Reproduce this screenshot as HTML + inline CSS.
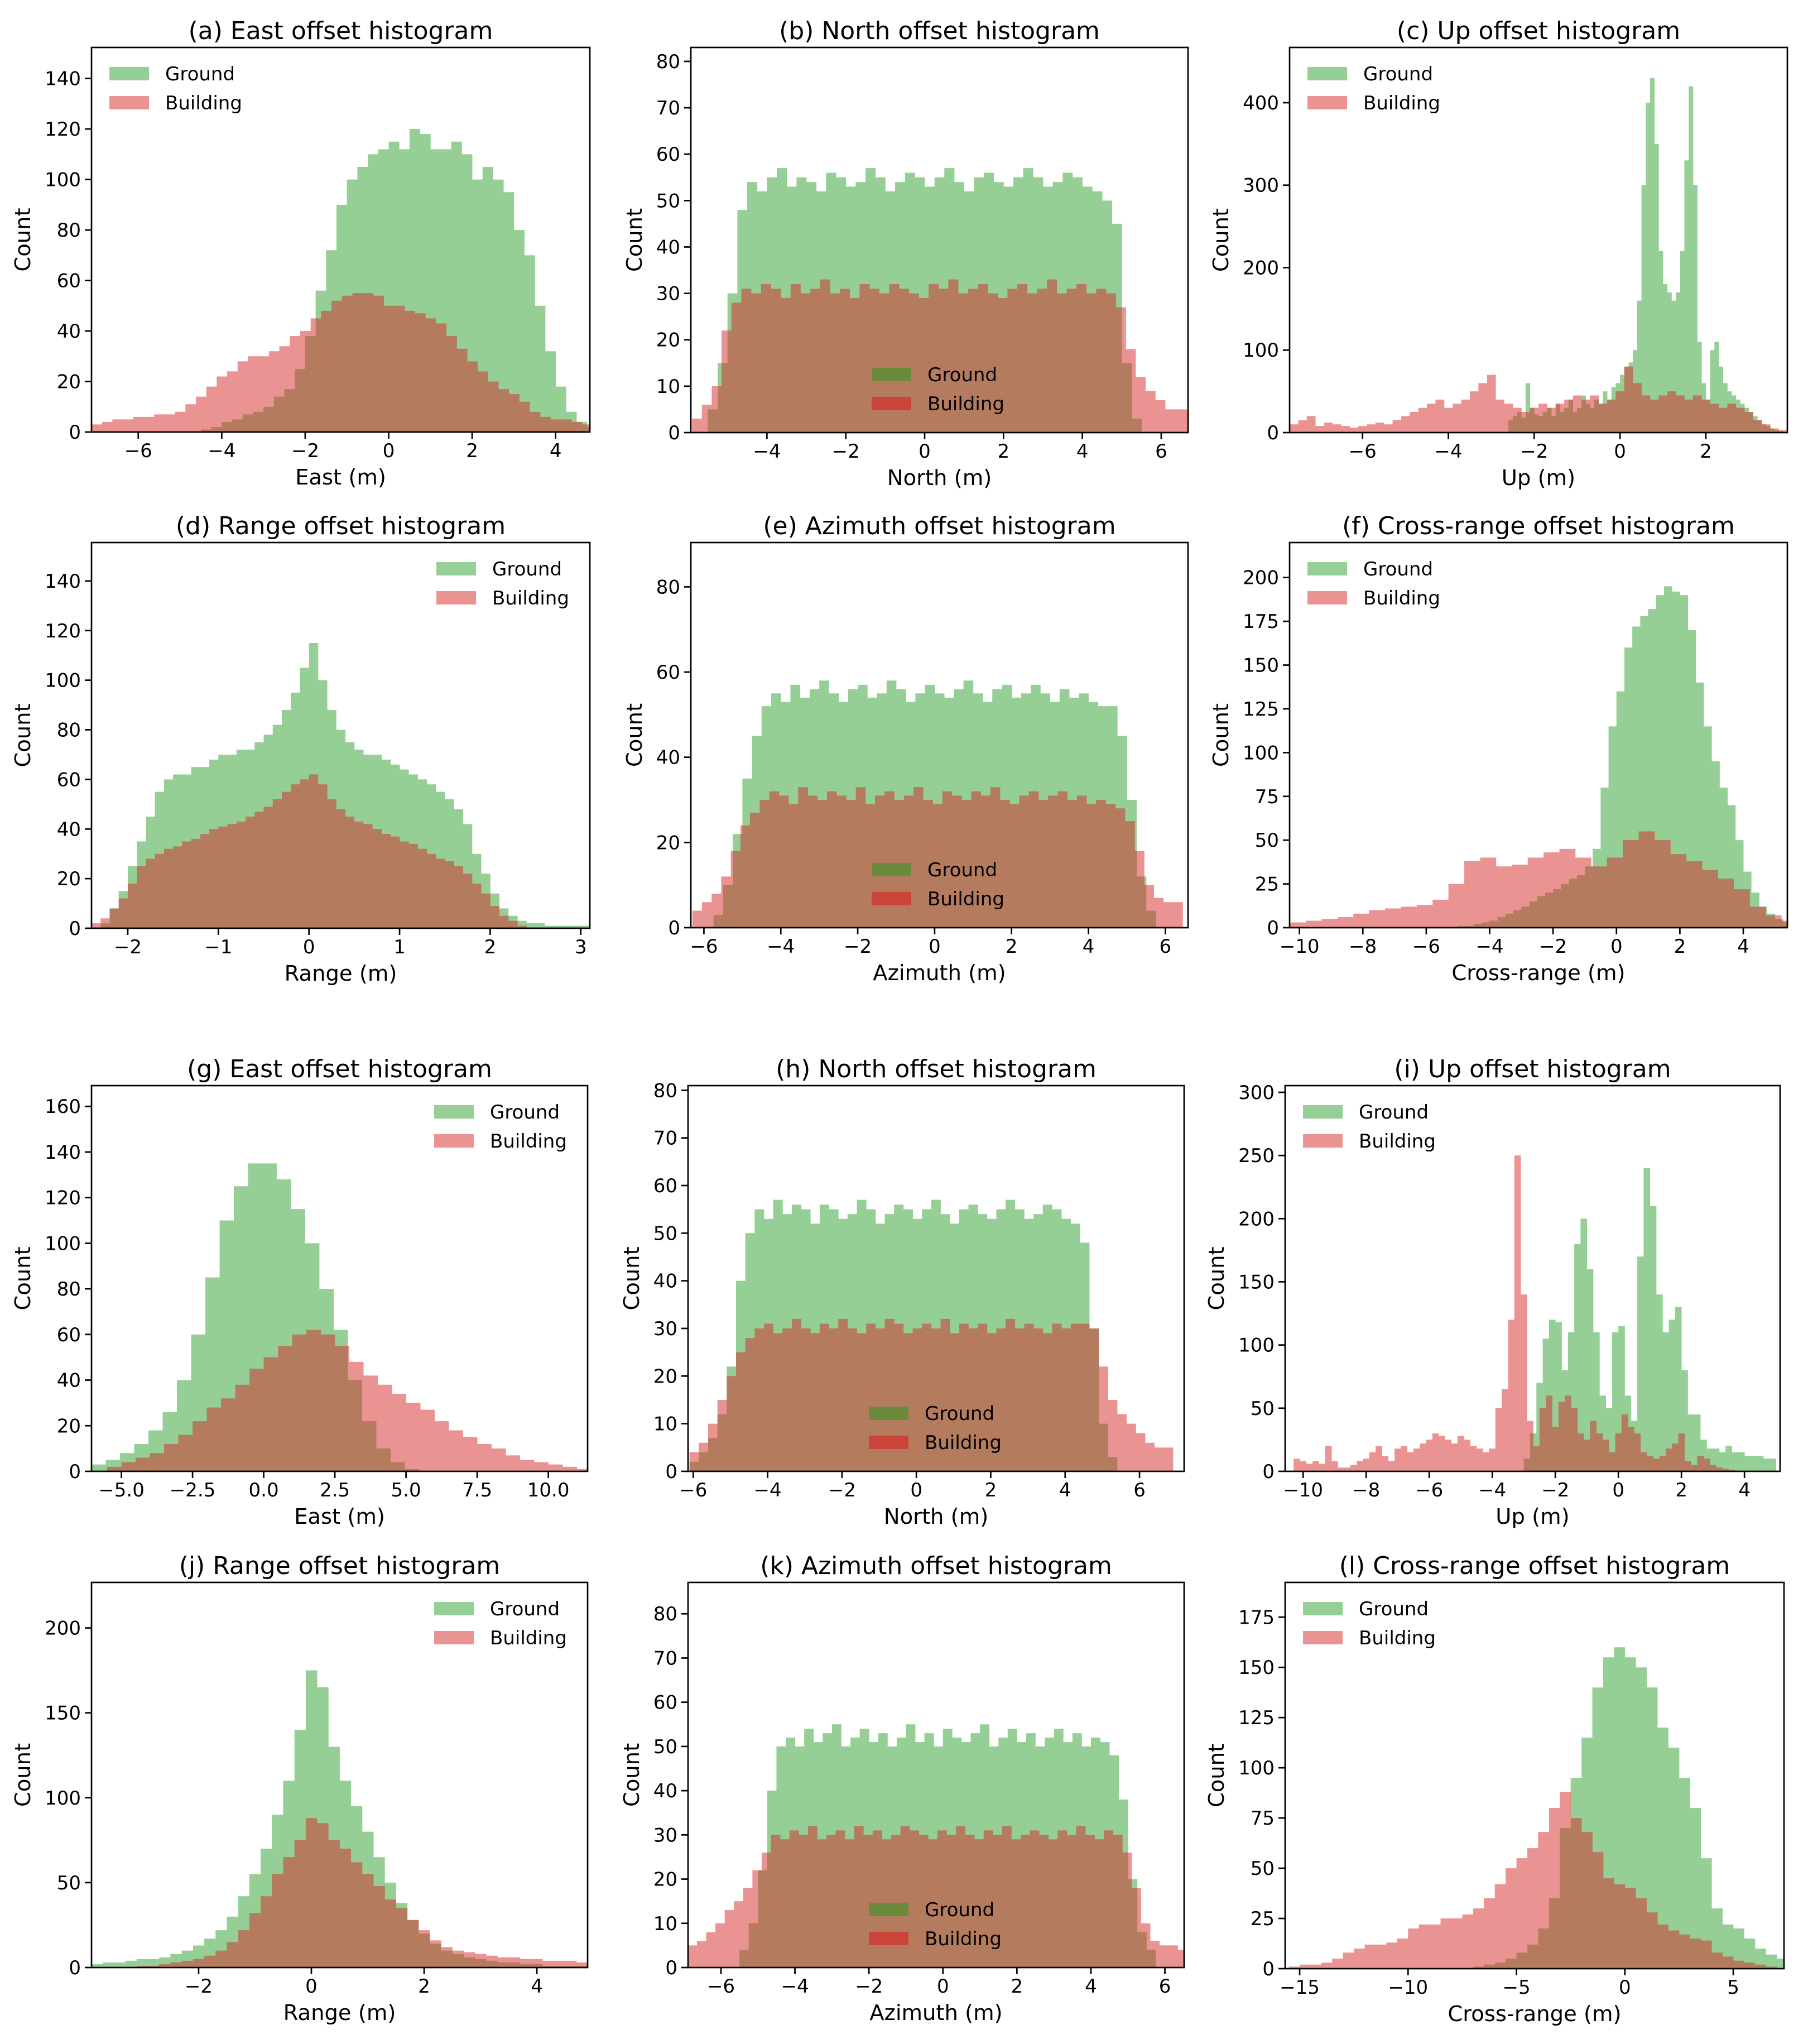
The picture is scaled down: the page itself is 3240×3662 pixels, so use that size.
<!DOCTYPE html>
<html><head><meta charset="utf-8"><style>
html,body{margin:0;padding:0;background:#fff}
svg{display:block;font-family:"DejaVu Sans","Liberation Sans",sans-serif}
</style></head><body>
<svg id="fig" xmlns="http://www.w3.org/2000/svg" width="3240" height="3662" viewBox="0 0 3240 3662"></svg>
<script>
// ---- data (counts per bin, bin start in metres, bin width in metres) ----
const aGroundStart=-4.5, aGroundBin=0.25;
const aGround=[1,2,4,5,7,8,10,14,17,25,38,56,72,90,100,105,110,112,115,112,120,118,112,112,115,110,100,105,100,95,80,70,50,32,18,8,4,2];
const aBuildStart=-7.12, aBuildBin=0.25;
const aBuild=[3,4,5,5,6,6,7,7,8,11,14,18,22,24,28,30,30,32,34,38,40,45,48,52,54,55,55,54,50,50,48,47,45,43,38,33,28,24,20,17,15,12,8,6,5,5,4,3];

const bGroundStart=-5.5, bGroundBin=0.25;
const bGround=[5,15,30,48,54,52,55,57,53,55,54,52,56,55,53,54,57,55,52,54,56,55,53,55,57,54,52,55,56,54,53,55,57,55,53,54,56,55,53,52,50,45,15,3];
const bBuildStart=-5.9, bBuildBin=0.25;
const bBuild=[3,6,10,22,28,31,30,32,31,29,32,30,31,33,30,31,29,32,31,30,32,31,30,29,32,31,33,30,31,32,30,29,31,32,30,31,33,30,31,32,30,31,30,27,18,12,9,7,5,5,5];

const cGroundStart=-2.6, cGroundBin=0.1;
const cGround=[15,20,25,18,60,30,22,20,25,30,20,35,25,30,40,25,30,45,35,30,40,35,50,40,55,60,70,80,85,100,160,300,400,430,350,220,180,170,160,170,220,330,420,300,110,60,40,100,110,80,60,50,45,40,35,30,25,20,15,10,8,5,3,2];
const cBuildStart=-7.7, cBuildBin=0.2;
const cBuild=[10,15,20,8,12,10,8,6,8,10,12,10,15,20,25,30,35,40,30,35,40,50,60,70,40,35,30,25,30,35,30,35,40,45,40,45,35,40,50,80,60,45,40,45,50,45,40,45,40,35,30,35,30,25,15,10,5,3];

const dGroundStart=-2.3, dGroundBin=0.1;
const dGround=[2,8,15,25,35,45,55,60,62,62,65,65,68,70,70,72,72,75,78,82,88,95,105,115,100,88,80,75,72,70,70,68,66,64,62,60,58,55,52,48,42,30,22,14,8,5,3,2,2,1,1,1,1,1];
const dBuildStart=-2.4, dBuildBin=0.1;
const dBuild=[2,4,8,12,18,25,28,30,32,33,35,36,38,40,41,42,43,45,47,49,52,55,58,60,62,58,52,48,45,43,42,40,38,37,35,34,32,30,28,27,25,22,18,14,9,5,3,1];

const eGroundStart=-5.75, eGroundBin=0.25;
const eGround=[3,10,22,35,45,52,55,53,57,54,56,58,55,53,56,57,54,55,58,56,53,55,57,55,54,56,58,55,53,56,57,54,55,57,55,53,56,54,55,53,52,52,45,30,12,4];
const eBuildStart=-6.3, eBuildBin=0.25;
const eBuild=[4,6,8,12,18,24,27,30,32,31,29,33,31,30,32,31,30,33,29,31,32,30,31,33,30,29,32,31,30,32,31,33,30,29,31,32,30,31,32,30,31,29,30,29,28,25,18,10,7,6,6];

const fGroundStart=-5.0, fGroundBin=0.25;
const fGround=[1,1,2,3,4,6,8,10,12,15,18,20,22,25,28,30,35,45,80,115,135,160,172,178,182,190,195,192,190,170,140,115,95,80,70,50,32,20,12,8,5,3];
const fBuildStart=-10.3, fBuildBin=0.5;
const fBuild=[3,4,5,6,8,10,11,12,13,16,25,38,40,35,36,40,43,45,40,35,40,50,55,50,42,38,33,28,22,12,7,4];

const gGroundStart=-6.05, gGroundBin=0.5;
const gGround=[3,5,8,12,18,26,40,60,85,110,125,135,135,128,115,100,80,62,40,22,10,4,1];
const gBuildStart=-5.5, gBuildBin=0.5;
const gBuild=[2,4,6,8,12,16,22,28,32,38,45,50,55,60,62,60,55,48,42,38,34,30,27,22,18,15,12,10,7,5,4,3,2,1];

const hGroundStart=-6.1, hGroundBin=0.25;
const hGround=[2,4,7,12,22,40,50,55,53,57,54,56,55,52,56,55,53,54,57,55,52,54,56,55,53,55,57,54,52,55,56,54,53,55,57,55,53,54,56,55,53,52,48,30,10,3];
const hBuildStart=-6.1, hBuildBin=0.25;
const hBuild=[4,6,10,15,20,25,28,30,31,29,30,32,30,29,31,30,32,30,29,31,30,32,31,29,30,31,30,32,29,31,30,31,29,30,32,30,31,30,29,31,30,31,31,30,22,15,12,10,8,6,5,5];

const iGroundStart=-3.0, iGroundBin=0.2;
const iGround=[10,30,70,105,120,118,80,110,180,200,160,110,60,50,110,115,60,40,170,240,210,140,110,120,130,80,45,45,25,18,18,15,20,15,15,12,12,12,10,10];
const iBuildStart=-10.3, iBuildBin=0.2;
const iBuild=[10,8,6,8,6,20,8,3,3,5,8,10,15,20,12,8,18,20,15,18,22,25,30,28,25,22,28,25,20,18,15,18,50,65,120,250,140,40,20,50,60,35,55,60,50,30,25,40,30,25,15,30,45,35,30,15,12,10,12,18,22,30,8,5,12,10,5,3,2,1,0,0,0,0,0,0,0];

const jGroundStart=-3.9, jGroundBin=0.2;
const jGround=[2,3,3,4,5,5,6,8,10,13,17,22,30,42,55,70,90,110,140,175,165,130,110,95,80,65,50,38,28,20,14,10,8,6,5,4,3,3,2,2,1,1,1,1];
const jBuildStart=-3.9, jBuildBin=0.2;
const jBuild=[0,0,0,0,1,1,2,3,4,5,7,10,15,22,32,42,55,65,75,88,85,75,70,62,55,48,40,35,28,22,16,12,10,9,8,7,6,6,5,5,4,4,4,3];

const kGroundStart=-5.5, kGroundBin=0.25;
const kGround=[4,10,22,40,50,52,50,54,51,53,55,50,52,54,51,53,50,52,55,51,53,50,54,52,51,53,55,50,52,54,51,53,50,52,54,51,53,50,52,51,48,38,20,8,4];
const kBuildStart=-6.9, kBuildBin=0.25;
const kBuild=[5,6,8,10,13,15,18,22,26,30,29,31,30,32,29,30,31,29,32,30,31,29,30,32,31,30,29,31,30,32,30,29,31,30,32,29,30,31,30,29,31,30,32,30,29,31,30,26,18,10,6,5,5,4];

const lGroundStart=-7.0, lGroundBin=0.5;
const lGround=[1,2,3,5,8,12,20,35,70,95,115,140,155,160,155,150,140,120,110,95,80,55,30,22,20,15,10,7,5];
const lBuildStart=-15.5, lBuildBin=0.5;
const lBuild=[1,2,2,3,5,8,10,12,12,13,15,20,22,22,25,25,27,30,35,42,50,55,60,68,80,88,75,68,58,45,42,40,35,28,22,19,17,15,14,8,6,4,3,2,1];

// tick values
const xtA=[-6,-4,-2,0,2,4], ytA=[0,20,40,60,80,100,120,140];
const xtB=[-4,-2,0,2,4,6], ytB=[0,10,20,30,40,50,60,70,80];
const xtC=[-6,-4,-2,0,2], ytC=[0,100,200,300,400];
const xtD=[-2,-1,0,1,2,3], ytD=[0,20,40,60,80,100,120,140];
const xtE=[-6,-4,-2,0,2,4,6], ytE=[0,20,40,60,80];
const xtF=[-10,-8,-6,-4,-2,0,2,4], ytF=[0,25,50,75,100,125,150,175,200];
const xtG=[-5,-2.5,0,2.5,5,7.5,10], ytG=[0,20,40,60,80,100,120,140,160];
const xtH=[-6,-4,-2,0,2,4,6], ytH=[0,10,20,30,40,50,60,70,80];
const xtI=[-10,-8,-6,-4,-2,0,2,4], ytI=[0,50,100,150,200,250,300];
const xtJ=[-2,0,2,4], ytJ=[0,50,100,150,200];
const xtK=[-6,-4,-2,0,2,4,6], ytK=[0,10,20,30,40,50,60,70,80];
const xtL=[-15,-10,-5,0,5], ytL=[0,25,50,75,100,125,150,175];

const panels=[
 {id:'a',title:'(a) East offset histogram',xl:'East (m)',box:[164,1057,85,774],xr:[-7.12,4.82],yr:[0,152.3],xt:xtA,yt:ytA,leg:'ul',G:[aGroundStart,aGroundBin,aGround],B:[aBuildStart,aBuildBin,aBuild]},
 {id:'b',title:'(b) North offset histogram',xl:'North (m)',box:[1238,2129,85,775],xr:[-5.93,6.68],yr:[0,83.0],xt:xtB,yt:ytB,leg:'lc',G:[bGroundStart,bGroundBin,bGround],B:[bBuildStart,bBuildBin,bBuild]},
 {id:'c',title:'(c) Up offset histogram',xl:'Up (m)',box:[2311,3203,85,775],xr:[-7.70,3.90],yr:[0,467],xt:xtC,yt:ytC,leg:'ul',G:[cGroundStart,cGroundBin,cGround],B:[cBuildStart,cBuildBin,cBuild]},
 {id:'d',title:'(d) Range offset histogram',xl:'Range (m)',box:[164,1057,972,1663],xr:[-2.40,3.10],yr:[0,155.5],xt:xtD,yt:ytD,leg:'ur',G:[dGroundStart,dGroundBin,dGround],B:[dBuildStart,dBuildBin,dBuild]},
 {id:'e',title:'(e) Azimuth offset histogram',xl:'Azimuth (m)',box:[1238,2129,972,1662],xr:[-6.34,6.59],yr:[0,90.4],xt:xtE,yt:ytE,leg:'lc',G:[eGroundStart,eGroundBin,eGround],B:[eBuildStart,eBuildBin,eBuild]},
 {id:'f',title:'(f) Cross-range offset histogram',xl:'Cross-range (m)',box:[2311,3203,972,1662],xr:[-10.31,5.39],yr:[0,220],xt:xtF,yt:ytF,leg:'ul',G:[fGroundStart,fGroundBin,fGround],B:[fBuildStart,fBuildBin,fBuild]},
 {id:'g',title:'(g) East offset histogram',xl:'East (m)',box:[164,1053,1945,2636],xr:[-6.05,11.38],yr:[0,169.1],xt:xtG,yt:ytG,leg:'ur',dec:1,G:[gGroundStart,gGroundBin,gGround],B:[gBuildStart,gBuildBin,gBuild]},
 {id:'h',title:'(h) North offset histogram',xl:'North (m)',box:[1233,2122,1945,2636],xr:[-6.14,7.20],yr:[0,80.97],xt:xtH,yt:ytH,leg:'lc',G:[hGroundStart,hGroundBin,hGround],B:[hBuildStart,hBuildBin,hBuild]},
 {id:'i',title:'(i) Up offset histogram',xl:'Up (m)',box:[2303,3190,1945,2636],xr:[-10.57,5.13],yr:[0,305.3],xt:xtI,yt:ytI,leg:'ul',G:[iGroundStart,iGroundBin,iGround],B:[iBuildStart,iBuildBin,iBuild]},
 {id:'j',title:'(j) Range offset histogram',xl:'Range (m)',box:[164,1053,2835,3525],xr:[-3.90,4.90],yr:[0,226.8],xt:xtJ,yt:ytJ,leg:'ur',G:[jGroundStart,jGroundBin,jGround],B:[jBuildStart,jBuildBin,jBuild]},
 {id:'k',title:'(k) Azimuth offset histogram',xl:'Azimuth (m)',box:[1233,2122,2835,3525],xr:[-6.89,6.52],yr:[0,87.1],xt:xtK,yt:ytK,leg:'lc',G:[kGroundStart,kGroundBin,kGround],B:[kBuildStart,kBuildBin,kBuild]},
 {id:'l',title:'(l) Cross-range offset histogram',xl:'Cross-range (m)',box:[2303,3197,2835,3527],xr:[-15.67,7.34],yr:[0,192.3],xt:xtL,yt:ytL,leg:'ul',G:[lGroundStart,lGroundBin,lGround],B:[lBuildStart,lBuildBin,lBuild]}
];

const NS='http://www.w3.org/2000/svg';
const svg=document.getElementById('fig');
function mk(tag,attrs,parent){const e=document.createElementNS(NS,tag);for(const k in attrs)e.setAttribute(k,attrs[k]);(parent||svg).appendChild(e);return e;}
function fmt(v,dec){let s=dec?v.toFixed(dec):String(v);return s.replace('-','\u2212');}
const defs=mk('defs',{});

panels.forEach(p=>{
  const [L,R,T,Bm]=p.box;
  const xs=v=>L+(v-p.xr[0])/(p.xr[1]-p.xr[0])*(R-L);
  const ys=v=>Bm-(v-p.yr[0])/(p.yr[1]-p.yr[0])*(Bm-T);
  const g=mk('g',{});
  
  
  const cp=mk('clipPath',{id:'clip-'+p.id},defs);
  mk('rect',{x:L,y:T,width:R-L,height:Bm-T},cp);
  const bars=mk('g',{'clip-path':'url(#clip-'+p.id+')'},g);
  [['G','#2ca02c','ground'],['B','#d62728','building']].forEach(([key,col,nm])=>{
    const [start,w,counts]=p[key];
    let d='';
    counts.forEach((c,i)=>{
      if(c<=0)return;
      const x0=xs(start+i*w),x1=xs(start+(i+1)*w)+0.4;
      const y0=ys(c),y1=ys(0);
      d+='M'+x0.toFixed(2)+' '+y1.toFixed(2)+'H'+x1.toFixed(2)+'V'+y0.toFixed(2)+'H'+x0.toFixed(2)+'Z';
    });
    const path=mk('path',{d:d,fill:col,'fill-opacity':0.5,'fill-rule':'nonzero'},bars);
    
    
  });
  // ticks
  const tg=mk('g',{stroke:'#000','stroke-width':2.7},g);
  const lg=mk('g',{'font-size':34,fill:'#000'},g);
  p.xt.forEach(v=>{
    const x=xs(v);
    mk('line',{x1:x,x2:x,y1:Bm,y2:Bm+12},tg);
    const t=mk('text',{x:x,y:Bm+45,'text-anchor':'middle'},lg);
    t.textContent=fmt(v,p.dec);
    
    
  });
  let maxc=0;
  p.yt.forEach(v=>{
    const y=ys(v);
    mk('line',{x1:L-12,x2:L,y1:y,y2:y},tg);
    const t=mk('text',{x:L-19,y:y+12,'text-anchor':'end'},lg);
    t.textContent=fmt(v);
    
    
    maxc=Math.max(maxc,String(v).length);
  });
  const frame=mk('rect',{x:L,y:T,width:R-L,height:Bm-T,fill:'none',stroke:'#000','stroke-width':2.7},g);
  
  
  const title=mk('text',{x:(L+R)/2,y:T-15,'text-anchor':'middle','font-size':44},g);
  title.textContent=p.title;
  
  
  const xl=mk('text',{x:(L+R)/2,y:Bm+94,'text-anchor':'middle','font-size':38.5},g);
  xl.textContent=p.xl;
  
  
  const yx=L-19-maxc*21.6-26;
  const yl=mk('text',{x:yx,y:(T+Bm)/2,'text-anchor':'middle','font-size':38.5,transform:'rotate(-90 '+yx+' '+((T+Bm)/2)+')'},g);
  yl.textContent='Count';
  
  
  // legend
  let px,py,tx,cols;
  if(p.leg==='ul'){px=L+32;py=T+35;cols=['#95cf95','#ea9393'];}
  else if(p.leg==='ur'){px=R-275;py=T+35;cols=['#95cf95','#ea9393'];}
  else{px=L+324;py=Bm-116;cols=['#6b8a3c','#c9453a'];}
  tx=px+100;
  const lgd=mk('g',{},g);
  
  
  ['Ground','Building'].forEach((nm,i)=>{
    const yy=py+i*52;
    const pr=mk('rect',{x:px,y:yy,width:71,height:24,fill:cols[i]},lgd);
    
    
    const t=mk('text',{x:tx,y:yy+24,'font-size':34},lgd);
    t.textContent=nm;
    
    
  });
});
</script>
</body></html>
